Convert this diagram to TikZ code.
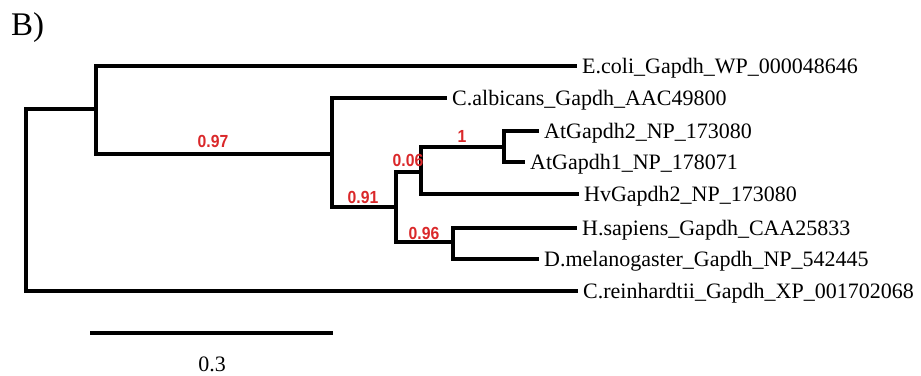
\documentclass[tikz,border=0pt]{standalone}
\usepackage{fontspec}
\setmainfont{Liberation Serif}
\newfontfamily\lblsans[FakeStretch=0.9]{Liberation Sans}
\definecolor{bootred}{RGB}{218,40,42}
\begin{document}
\begin{tikzpicture}[x=1pt,y=-1pt,
  branch/.style={line width=3.4pt, line join=miter},
  taxon/.style={anchor=base west, inner sep=0pt, font=\fontsize{22}{24}\selectfont},
  support/.style={anchor=base, inner sep=0pt, text=bootred, font=\lblsans\bfseries\fontsize{17.5}{19}\selectfont}]
\useasboundingbox (0,0) rectangle (921,375);
% internal nodes
\coordinate (R) at (26,200);
\coordinate (A) at (96,109);
\coordinate (B) at (332,154);
\coordinate (C) at (396,207);
\coordinate (D) at (421,172);
\coordinate (E) at (504,147);
\coordinate (F) at (453,242);
% tips
\coordinate (tEcoli) at (577,66);
\coordinate (tCalb) at (447,98);
\coordinate (tAt2) at (539,131);
\coordinate (tAt1) at (525,162);
\coordinate (tHv) at (579,194);
\coordinate (tHs) at (577,228);
\coordinate (tDm) at (539,259);
\coordinate (tCr) at (578,291);
% branches
\draw[branch] (R) |- (A);
\draw[branch] (R) |- (tCr);
\draw[branch] (A) |- (tEcoli);
\draw[branch] (A) |- (B);
\draw[branch] (B) |- (tCalb);
\draw[branch] (B) |- (C);
\draw[branch] (C) |- (D);
\draw[branch] (C) |- (F);
\draw[branch] (D) |- (E);
\draw[branch] (D) |- (tHv);
\draw[branch] (E) |- (tAt2);
\draw[branch] (E) |- (tAt1);
\draw[branch] (F) |- (tHs);
\draw[branch] (F) |- (tDm);
% taxon labels
\node[taxon] (lEcoli) at ([xshift=5pt,yshift=-7.5pt]tEcoli) {E.coli\_Gapdh\_WP\_000048646};
\node[taxon] (lCalb) at ([xshift=5pt,yshift=-7.5pt]tCalb) {C.albicans\_Gapdh\_AAC49800};
\node[taxon] (lAt2) at ([xshift=5pt,yshift=-7.5pt]tAt2) {AtGapdh2\_NP\_173080};
\node[taxon] (lAt1) at ([xshift=5pt,yshift=-7.5pt]tAt1) {AtGapdh1\_NP\_178071};
\node[taxon] (lHv) at ([xshift=5pt,yshift=-7.5pt]tHv) {HvGapdh2\_NP\_173080};
\node[taxon] (lHs) at ([xshift=5pt,yshift=-7.5pt]tHs) {H.sapiens\_Gapdh\_CAA25833};
\node[taxon] (lDm) at ([xshift=5pt,yshift=-7.5pt]tDm) {D.melanogaster\_Gapdh\_NP\_542445};
\node[taxon] (lCr) at ([xshift=5pt,yshift=-7.5pt]tCr) {C.reinhardtii\_Gapdh\_XP\_001702068};
% support values
\node[support] (s97) at (213,147) {0.97};
\node[support] (s91) at (363,203) {0.91};
\node[support] (s06) at (408,166) {0.06};
\node[support] (s1) at (462,142) {1};
\node[support] (s96) at (424,239) {0.96};
% scale bar
\coordinate (sb1) at (90,333);
\coordinate (sb2) at (333,333);
\draw[branch] (sb1) -- (sb2);
\node[anchor=base, inner sep=0pt, font=\fontsize{22}{24}\selectfont] (sblabel) at (212,371) {0.3};
% panel letter
\node[anchor=base west, inner sep=0pt, font=\fontsize{33}{36}\selectfont] (panel) at (11,35) {B)};
\end{tikzpicture}
\end{document}
